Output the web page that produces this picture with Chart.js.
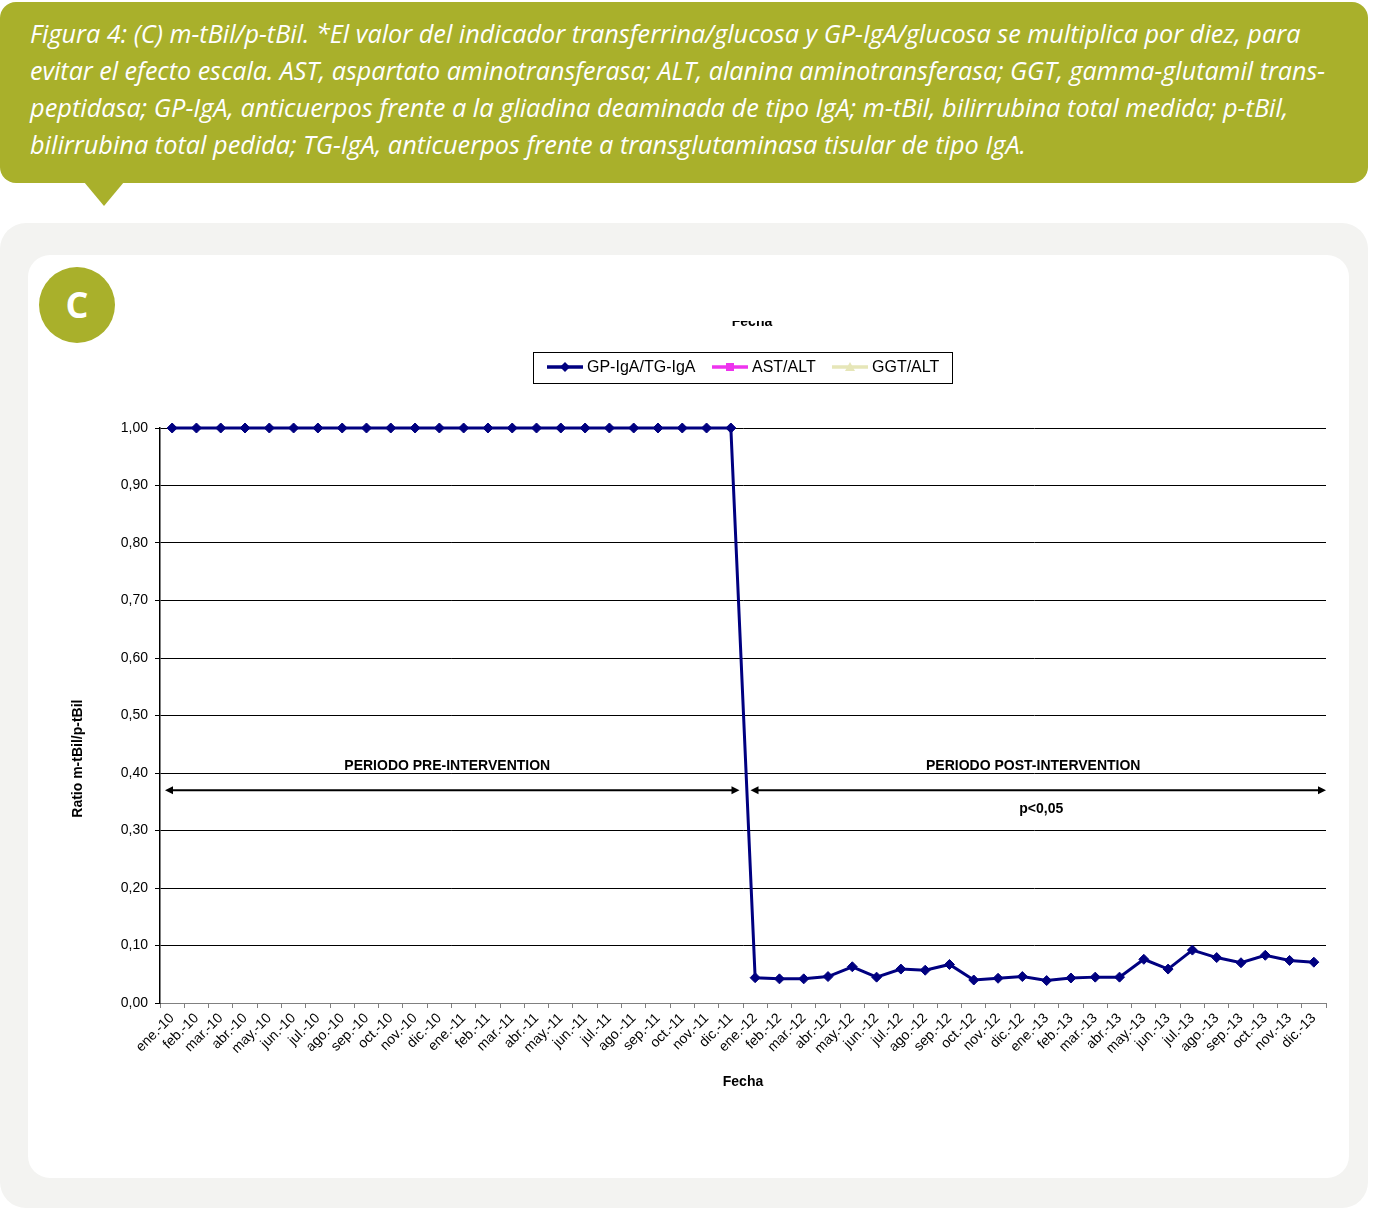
<!DOCTYPE html>
<html><head><meta charset="utf-8">
<script src="https://cdn.jsdelivr.net/npm/chart.js@4.4.0/dist/chart.umd.min.js"></script>
<style>
html,body{margin:0;padding:0;background:#fff;}
body{width:1374px;height:1210px;position:relative;overflow:hidden;}
#cap{position:absolute;left:0;top:2px;width:1368px;height:181px;background:#a9b02b;border-radius:16px;}
#tri{position:absolute;left:84px;top:182px;width:0;height:0;border-left:20px solid transparent;border-right:20px solid transparent;border-top:24px solid #a9b02b;}
.ln{position:absolute;left:30px;top:0;color:#fff;font-family:'Open Sans',sans-serif;font-style:italic;font-size:25px;white-space:nowrap;transform-origin:0 0;line-height:1;}
.ln i.bl{display:inline-block;width:0;height:0;vertical-align:baseline;}
#outer{position:absolute;left:0;top:223px;width:1368px;height:985px;background:#f3f3f1;border-radius:26px;}
#inner{position:absolute;left:28px;top:255px;width:1321px;height:923px;background:#fff;border-radius:22px;}
#badge{position:absolute;left:39px;top:267px;width:76px;height:76px;border-radius:50%;background:#a9b02b;color:#fff;font:bold 36px 'Open Sans',sans-serif;text-align:center;line-height:76px;z-index:2}
#cv{position:absolute;left:28px;top:318px;z-index:1}
</style>
</head>
<body>
<div id="cap"></div>
<div id="tri"></div>
<div class="ln" data-w="1270" data-b="43">Figura 4: (C) m-tBil/p-tBil. *El valor del indicador transferrina/glucosa y GP-IgA/glucosa se multiplica por diez, para<i class="bl"></i></div>
<div class="ln" data-w="1295" data-b="80">evitar el efecto escala. AST, aspartato aminotransferasa; ALT, alanina aminotransferasa; GGT, gamma-glutamil trans-<i class="bl"></i></div>
<div class="ln" data-w="1258" data-b="117">peptidasa; GP-IgA, anticuerpos frente a la gliadina deaminada de tipo IgA; m-tBil, bilirrubina total medida; p-tBil,<i class="bl"></i></div>
<div class="ln" data-w="996" data-b="154">bilirrubina total pedida; TG-IgA, anticuerpos frente a transglutaminasa tisular de tipo IgA.<i class="bl"></i></div>
<div id="outer"></div>
<div id="inner"></div>
<div id="badge">C</div>
<canvas id="cv" width="1321" height="840"></canvas>
<script>
// ---- data ----
const categories = [
  'ene.-10','feb.-10','mar.-10','abr.-10','may.-10','jun.-10','jul.-10','ago.-10','sep.-10','oct.-10','nov.-10','dic.-10',
  'ene.-11','feb.-11','mar.-11','abr.-11','may.-11','jun.-11','jul.-11','ago.-11','sep.-11','oct.-11','nov.-11','dic.-11',
  'ene.-12','feb.-12','mar.-12','abr.-12','may.-12','jun.-12','jul.-12','ago.-12','sep.-12','oct.-12','nov.-12','dic.-12',
  'ene.-13','feb.-13','mar.-13','abr.-13','may.-13','jun.-13','jul.-13','ago.-13','sep.-13','oct.-13','nov.-13','dic.-13'
];
const gpIgaTgIga = [
  1.00,1.00,1.00,1.00,1.00,1.00,1.00,1.00,1.00,1.00,1.00,1.00,
  1.00,1.00,1.00,1.00,1.00,1.00,1.00,1.00,1.00,1.00,1.00,1.00,
  0.044,0.042,0.042,0.046,0.063,0.045,0.059,0.057,0.067,0.040,0.043,0.046,
  0.039,0.0435,0.045,0.045,0.076,0.059,0.092,0.079,0.070,0.083,0.074,0.071
];
const astAlt = [];
const ggtAlt = [];
const seriesLabels = ['GP-IgA/TG-IgA','AST/ALT','GGT/ALT'];
const yTickLabels = ['0,00','0,10','0,20','0,30','0,40','0,50','0,60','0,70','0,80','0,90','1,00'];
const yAxisTitle = 'Ratio m-tBil/p-tBil';
const xAxisTitle = 'Fecha';
const periodLabels = ['PERIODO PRE-INTERVENTION','PERIODO POST-INTERVENTION'];
const pValueLabel = 'p<0,05';
const firstPostIndex = 24;
const periodLabelValue = 0.412;
const arrowValue = 0.370;
const pValueValue = 0.337;
const yTitleValue = 0.425;

// caption fitting
document.querySelectorAll('.ln').forEach(el=>{
  const w = el.offsetWidth; const t = +el.dataset.w;
  const off = el.querySelector('.bl').offsetTop;
  el.style.top = (+el.dataset.b - off) + 'px';
  el.style.transform = 'scaleX(' + (t/w) + ')';
});

const FONT = "'Liberation Sans', Arial, sans-serif";
Chart.defaults.font.family = FONT;
Chart.defaults.color = '#000';

function arrow(ctx, x1, x2, y){
  const L = 8, H = 4;
  ctx.save();
  ctx.strokeStyle = '#000'; ctx.fillStyle = '#000'; ctx.lineWidth = 2;
  ctx.beginPath(); ctx.moveTo(x1 + L - 1, y); ctx.lineTo(x2 - L + 1, y); ctx.stroke();
  ctx.beginPath(); ctx.moveTo(x1, y); ctx.lineTo(x1 + L, y - H); ctx.lineTo(x1 + L, y + H); ctx.closePath(); ctx.fill();
  ctx.beginPath(); ctx.moveTo(x2, y); ctx.lineTo(x2 - L, y - H); ctx.lineTo(x2 - L, y + H); ctx.closePath(); ctx.fill();
  ctx.restore();
}

function marker(ctx, style, color, x, y){
  ctx.save(); ctx.fillStyle = color; ctx.beginPath();
  if (style === 'rectRot'){ ctx.moveTo(x, y-5); ctx.lineTo(x+5, y); ctx.lineTo(x, y+5); ctx.lineTo(x-5, y); }
  else if (style === 'rect'){ ctx.rect(x-4, y-4, 8, 8); }
  else { ctx.moveTo(x, y-5); ctx.lineTo(x+5, y+4); ctx.lineTo(x-5, y+4); }
  ctx.closePath(); ctx.fill(); ctx.restore();
}

const overlay = {
  id: 'overlay',
  afterDatasetsDraw(chart){
    const ctx = chart.ctx, xs = chart.scales.x, ys = chart.scales.y, ca = chart.chartArea;
    const boundary = (xs.getPixelForValue(firstPostIndex - 1) + xs.getPixelForValue(firstPostIndex)) / 2;
    const ay = ys.getPixelForValue(arrowValue);
    const preL = ca.left + 5, preR = boundary - 3.5;
    const postL = boundary + 7.5, postR = ca.right;
    arrow(ctx, preL, preR, ay);
    arrow(ctx, postL, postR, ay);
    ctx.save();
    ctx.font = 'bold 14px ' + FONT; ctx.fillStyle = '#000'; ctx.textAlign = 'center'; ctx.textBaseline = 'middle';
    const ly = ys.getPixelForValue(periodLabelValue);
    ctx.fillText(periodLabels[0], (preL + preR) / 2 - 5, ly);
    ctx.fillText(periodLabels[1], (postL + postR) / 2 - 5, ly);
    ctx.fillText(pValueLabel, (postL + postR) / 2 + 3, ys.getPixelForValue(pValueValue));
    // y axis title
    ctx.translate(50, ys.getPixelForValue(yTitleValue));
    ctx.rotate(-Math.PI / 2);
    ctx.fillText(yAxisTitle, 0, 0);
    ctx.restore();
  },
  afterDraw(chart){
    const ctx = chart.ctx;
    ctx.save();
    ctx.beginPath(); ctx.rect(0, 3, chart.width, 40); ctx.clip();
    ctx.font = 'bold 14px ' + FONT; ctx.fillStyle = '#000'; ctx.textAlign = 'center'; ctx.textBaseline = 'alphabetic';
    ctx.fillText(xAxisTitle, 724, 8);
    ctx.restore();
    ctx.save();
    // legend
    ctx.strokeStyle = '#000'; ctx.lineWidth = 1;
    ctx.strokeRect(505.5, 34.5, 419, 31);
    const starts = [519, 684, 804];
    ctx.font = '16px ' + FONT; ctx.textAlign = 'left'; ctx.textBaseline = 'middle';
    chart.data.datasets.forEach((ds, i) => {
      const x = starts[i], y = 49;
      ctx.strokeStyle = ds.borderColor; ctx.lineWidth = 3.5;
      ctx.beginPath(); ctx.moveTo(x, y); ctx.lineTo(x + 36, y); ctx.stroke();
      marker(ctx, ds.pointStyle, ds.borderColor, x + 18, y);
      ctx.fillStyle = '#000';
      ctx.fillText(ds.label, x + 40, y + 1);
    });
    ctx.restore();
  }
};

new Chart(document.getElementById('cv'), {
  type: 'line',
  data: {
    labels: categories,
    datasets: [
      {label: seriesLabels[0], data: gpIgaTgIga, borderColor: '#000080', backgroundColor: '#000080',
       borderWidth: 3, pointStyle: 'rectRot', pointRadius: 5, pointBorderWidth: 1,
       pointBackgroundColor: '#000080', pointBorderColor: '#000080', tension: 0, clip: false},
      {label: seriesLabels[1], data: astAlt, borderColor: '#ee33ee', backgroundColor: '#ee33ee',
       borderWidth: 3, pointStyle: 'rect', pointRadius: 4, clip: false},
      {label: seriesLabels[2], data: ggtAlt, borderColor: '#e6e6b8', backgroundColor: '#e6e6b8',
       borderWidth: 3, pointStyle: 'triangle', pointRadius: 5, clip: false}
    ]
  },
  options: {
    responsive: false, animation: false, devicePixelRatio: 1,
    layout: {padding: {top: 110, bottom: 65, left: 0, right: 23}},
    plugins: {legend: {display: false}, tooltip: {enabled: false}, title: {display: false}},
    scales: {
      x: {
        type: 'category', offset: true,
        grid: {display: true, drawOnChartArea: false, drawTicks: true, tickLength: 5, offset: true, color: '#808080', lineWidth: 1},
        border: {display: true, color: '#808080', width: 1},
        ticks: {autoSkip: false, maxRotation: 45, minRotation: 45, color: '#000', font: {size: 14}, padding: 2},
        title: {display: true, text: xAxisTitle, color: '#000', font: {size: 14, weight: 'bold'}, padding: {top: 0, bottom: 2}},
        afterFit(s){ s.height = 90; }
      },
      y: {
        min: 0, max: 1,
        ticks: {stepSize: 0.1, color: '#000', font: {size: 14}, padding: 7, callback: (v, i) => yTickLabels[i]},
        grid: {color: '#000', lineWidth: 1, drawTicks: true, tickLength: 5},
        border: {display: true, color: '#000', width: 1.5},
        afterFit(s){ s.width = 132; }
      }
    }
  },
  plugins: [overlay]
});
</script>
</body></html>
